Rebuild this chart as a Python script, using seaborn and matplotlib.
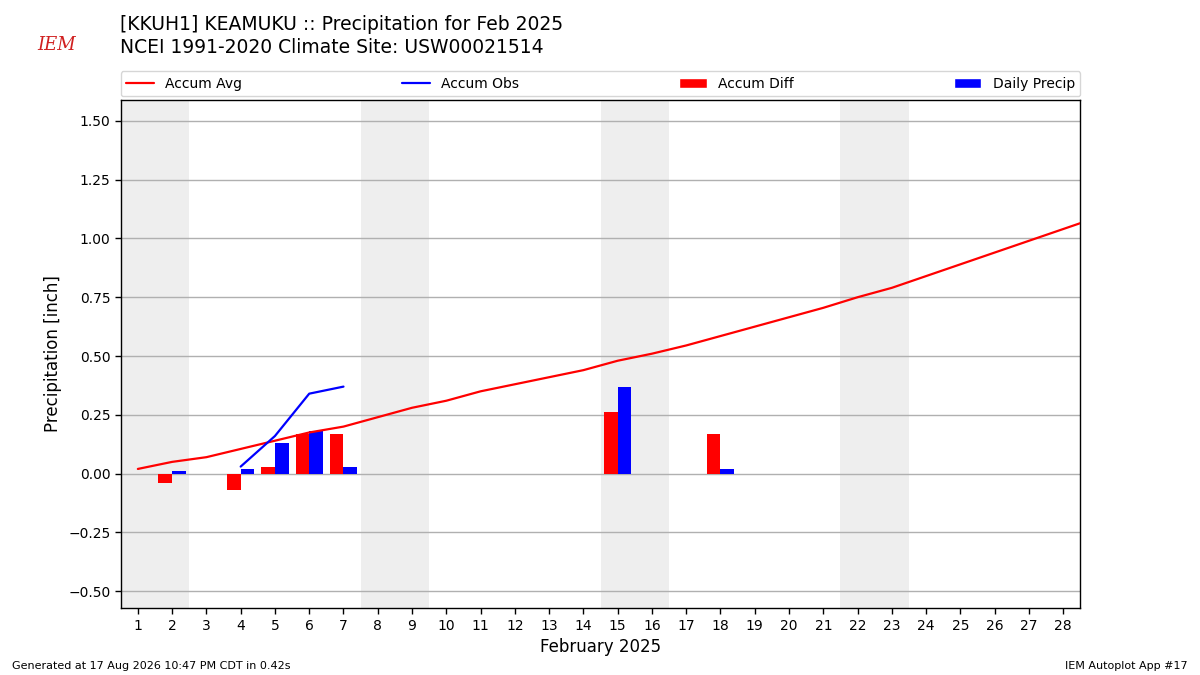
import numpy as np
import pandas as pd
import matplotlib
matplotlib.use("Agg")
import matplotlib.pyplot as plt
import seaborn as sns
from matplotlib.lines import Line2D
from matplotlib.patches import Patch

# =====================================================
# Data
# =====================================================

avg_days = list(range(1, 30))
accum_avg = [0.02, 0.05, 0.07, 0.105, 0.14, 0.175, 0.20, 0.24, 0.28, 0.31,
             0.35, 0.38, 0.41, 0.44, 0.48, 0.51, 0.545, 0.585, 0.625, 0.665,
             0.705, 0.75, 0.79, 0.84, 0.89, 0.94, 0.99, 1.04, 1.09]

obs_days = [4, 5, 6, 7]
accum_obs = [0.03, 0.16, 0.34, 0.37]

bar_days = [2, 4, 5, 6, 7, 15, 18]
accum_diff = [-0.04, -0.07, 0.03, 0.17, 0.17, 0.26, 0.17]
daily_precip = [0.01, 0.02, 0.13, 0.18, 0.03, 0.37, 0.02]

weekends = [1, 8, 15, 22]
tick_days = list(range(1, 29))

# =====================================================
# Figure
# =====================================================

sns.set_style("white")
plt.rcParams["font.family"] = ["DejaVu Sans"]
for key in ["text.color", "axes.labelcolor", "xtick.color", "ytick.color"]:
    plt.rcParams[key] = "black"

fig = plt.figure(figsize=(12, 6.75), dpi=100)
ax = fig.add_axes([0.1006, 0.099, 0.7997, 0.753])

for d in weekends:
    ax.axvspan(d - 0.5, d + 1.5, color="#eeeeee", zorder=0, lw=0)

bars = pd.DataFrame({
    "day": bar_days * 2,
    "value": accum_diff + daily_precip,
    "kind": ["Accum Diff"] * len(bar_days) + ["Daily Precip"] * len(bar_days),
})

sns.barplot(
    data=bars,
    x="day",
    y="value",
    hue="kind",
    hue_order=["Accum Diff", "Daily Precip"],
    palette={"Accum Diff": "#ff0000", "Daily Precip": "#0000ff"},
    native_scale=True,
    width=0.8,
    dodge=True,
    gap=0,
    errorbar=None,
    saturation=1,
    legend=False,
    linewidth=0,
    edgecolor="none",
    ax=ax,
    zorder=3,
)

sns.lineplot(x=avg_days, y=accum_avg, color="#ff0000", lw=1.6, ax=ax, zorder=4)
sns.lineplot(x=obs_days, y=accum_obs, color="#0000ff", lw=1.6, ax=ax, zorder=4)

ax.set_xlim(0.5, 28.5)
ax.set_ylim(-0.572, 1.589)
ax.set_xticks(tick_days)
ax.set_xticklabels([str(d) for d in tick_days], fontsize=10)
ax.set_yticks([-0.5, -0.25, 0, 0.25, 0.5, 0.75, 1.0, 1.25, 1.5])
ax.set_yticklabels(["\u22120.50", "\u22120.25", "0.00", "0.25", "0.50",
                    "0.75", "1.00", "1.25", "1.50"], fontsize=10)
ax.tick_params(axis="both", direction="out", length=4, width=1,
               bottom=True, left=True, color="black")
ax.yaxis.grid(True, color="#b0b0b0", lw=1, zorder=1)
ax.xaxis.grid(False)
ax.set_axisbelow(True)
for s in ax.spines.values():
    s.set_color("black")
    s.set_linewidth(1)

ax.set_xlabel("February 2025", fontsize=12)
ax.set_ylabel("Precipitation [inch]", fontsize=12)

handles = [
    Line2D([0], [0], color="#ff0000", lw=1.6),
    Line2D([0], [0], color="#0000ff", lw=1.6),
    Patch(facecolor="#ff0000"),
    Patch(facecolor="#0000ff"),
]
ax.legend(
    handles,
    ["Accum Avg", "Accum Obs", "Accum Diff", "Daily Precip"],
    loc="lower left",
    bbox_to_anchor=(0, 1.007, 1, 0.05),
    mode="expand",
    ncol=4,
    fontsize=10,
    borderaxespad=0,
    frameon=True,
)

# Titles and footer
fig.text(0.1, 0.964, "[KKUH1] KEAMUKU :: Precipitation for Feb 2025",
         fontsize=13.5, va="center")
fig.text(0.1, 0.929, "NCEI 1991-2020 Climate Site: USW00021514",
         fontsize=13.5, va="center")
fig.text(0.031, 0.933, "IEM", fontsize=13, color="#d02020",
         family="serif", style="italic", va="center")
fig.text(0.01, 0.014, "Generated at 17 Aug 2026 10:47 PM CDT in 0.42s",
         fontsize=8, va="center")
fig.text(0.99, 0.014, "IEM Autoplot App #17", fontsize=8,
         ha="right", va="center")

fig.savefig("out.png", dpi=100)
